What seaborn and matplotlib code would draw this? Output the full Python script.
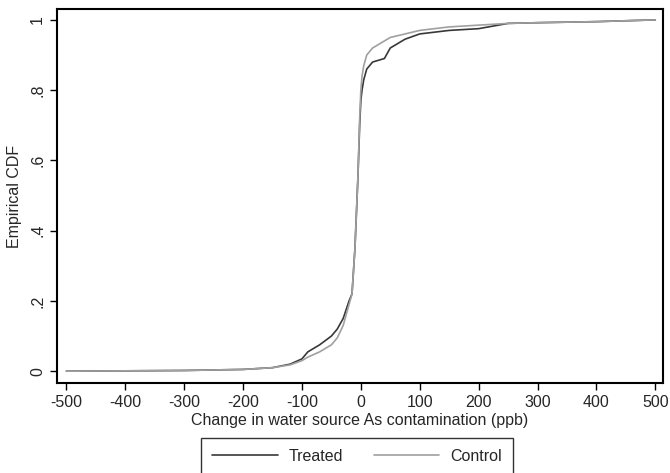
import pandas as pd
import matplotlib
matplotlib.use('Agg')
import matplotlib.pyplot as plt
import seaborn as sns

treated_x = [-500, -400, -300, -200, -150, -120, -100, -90, -70, -50, -40, -30, -20, -15,
             -10, -5, -2, 0, 2, 5, 10, 20, 30, 40, 50, 75, 100, 150, 200, 250, 300, 400, 500]
treated_y = [0, 0.001, 0.002, 0.005, 0.01, 0.02, 0.035, 0.055, 0.075, 0.1, 0.12, 0.15, 0.2, 0.22,
             0.35, 0.55, 0.7, 0.77, 0.8, 0.83, 0.86, 0.88, 0.885, 0.89, 0.92, 0.945, 0.96, 0.97,
             0.975, 0.99, 0.992, 0.995, 1.0]

control_x = [-500, -400, -300, -200, -150, -120, -100, -90, -70, -50, -40, -30, -20, -15,
             -10, -5, -2, 0, 2, 5, 10, 20, 30, 50, 75, 100, 150, 200, 250, 300, 400, 500]
control_y = [0, 0.001, 0.002, 0.005, 0.01, 0.018, 0.03, 0.04, 0.055, 0.075, 0.095, 0.13, 0.19, 0.22,
             0.35, 0.55, 0.72, 0.8, 0.84, 0.87, 0.9, 0.92, 0.93, 0.95, 0.96, 0.97, 0.98,
             0.985, 0.99, 0.992, 0.995, 1.0]

x_ticks = [-500, -400, -300, -200, -100, 0, 100, 200, 300, 400, 500]
y_ticks = [0, 0.2, 0.4, 0.6, 0.8, 1.0]
y_labels = ['0', '.2', '.4', '.6', '.8', '1']

df = pd.concat([
    pd.DataFrame({'x': treated_x, 'y': treated_y, 'grupo': 'Treated'}),
    pd.DataFrame({'x': control_x, 'y': control_y, 'grupo': 'Control'}),
])

sns.set_style('white')
plt.rcParams['font.family'] = ['Liberation Sans', 'DejaVu Sans']

fig = plt.figure(figsize=(6.7, 4.73), dpi=100)
ax = fig.add_axes([0.085, 0.19, 0.9045, 0.791])

sns.lineplot(data=df, x='x', y='y', hue='grupo', sort=False, estimator=None,
             palette={'Treated': '#383838', 'Control': '#a0a0a0'},
             linewidth=1.2, ax=ax)

ax.set_xlim(-516, 513)
ax.set_ylim(-0.034, 1.031)
ax.set_xticks(x_ticks)
ax.set_xticklabels([str(t) for t in x_ticks], fontsize=11.5)
ax.set_yticks(y_ticks)
ax.set_yticklabels(y_labels, fontsize=11.5, rotation=90, va='center')
ax.tick_params(direction='out', length=5, width=1, color='black', left=True, bottom=True)
for s in ax.spines.values():
    s.set_color('black')
    s.set_linewidth(1.5)

ax.set_xlabel('Change in water source As contamination (ppb)', fontsize=11.5, labelpad=2)
ax.set_ylabel('Empirical CDF', fontsize=11.5, labelpad=6)

leg = ax.legend(loc='upper center', bbox_to_anchor=(0.495, -0.125), ncol=2, frameon=True,
                fancybox=False, edgecolor='black', fontsize=11.5, handlelength=4.1,
                handletextpad=0.7, columnspacing=1.9, borderpad=0.7)
leg.get_frame().set_linewidth(1.0)

fig.savefig('out.png', dpi=100)
